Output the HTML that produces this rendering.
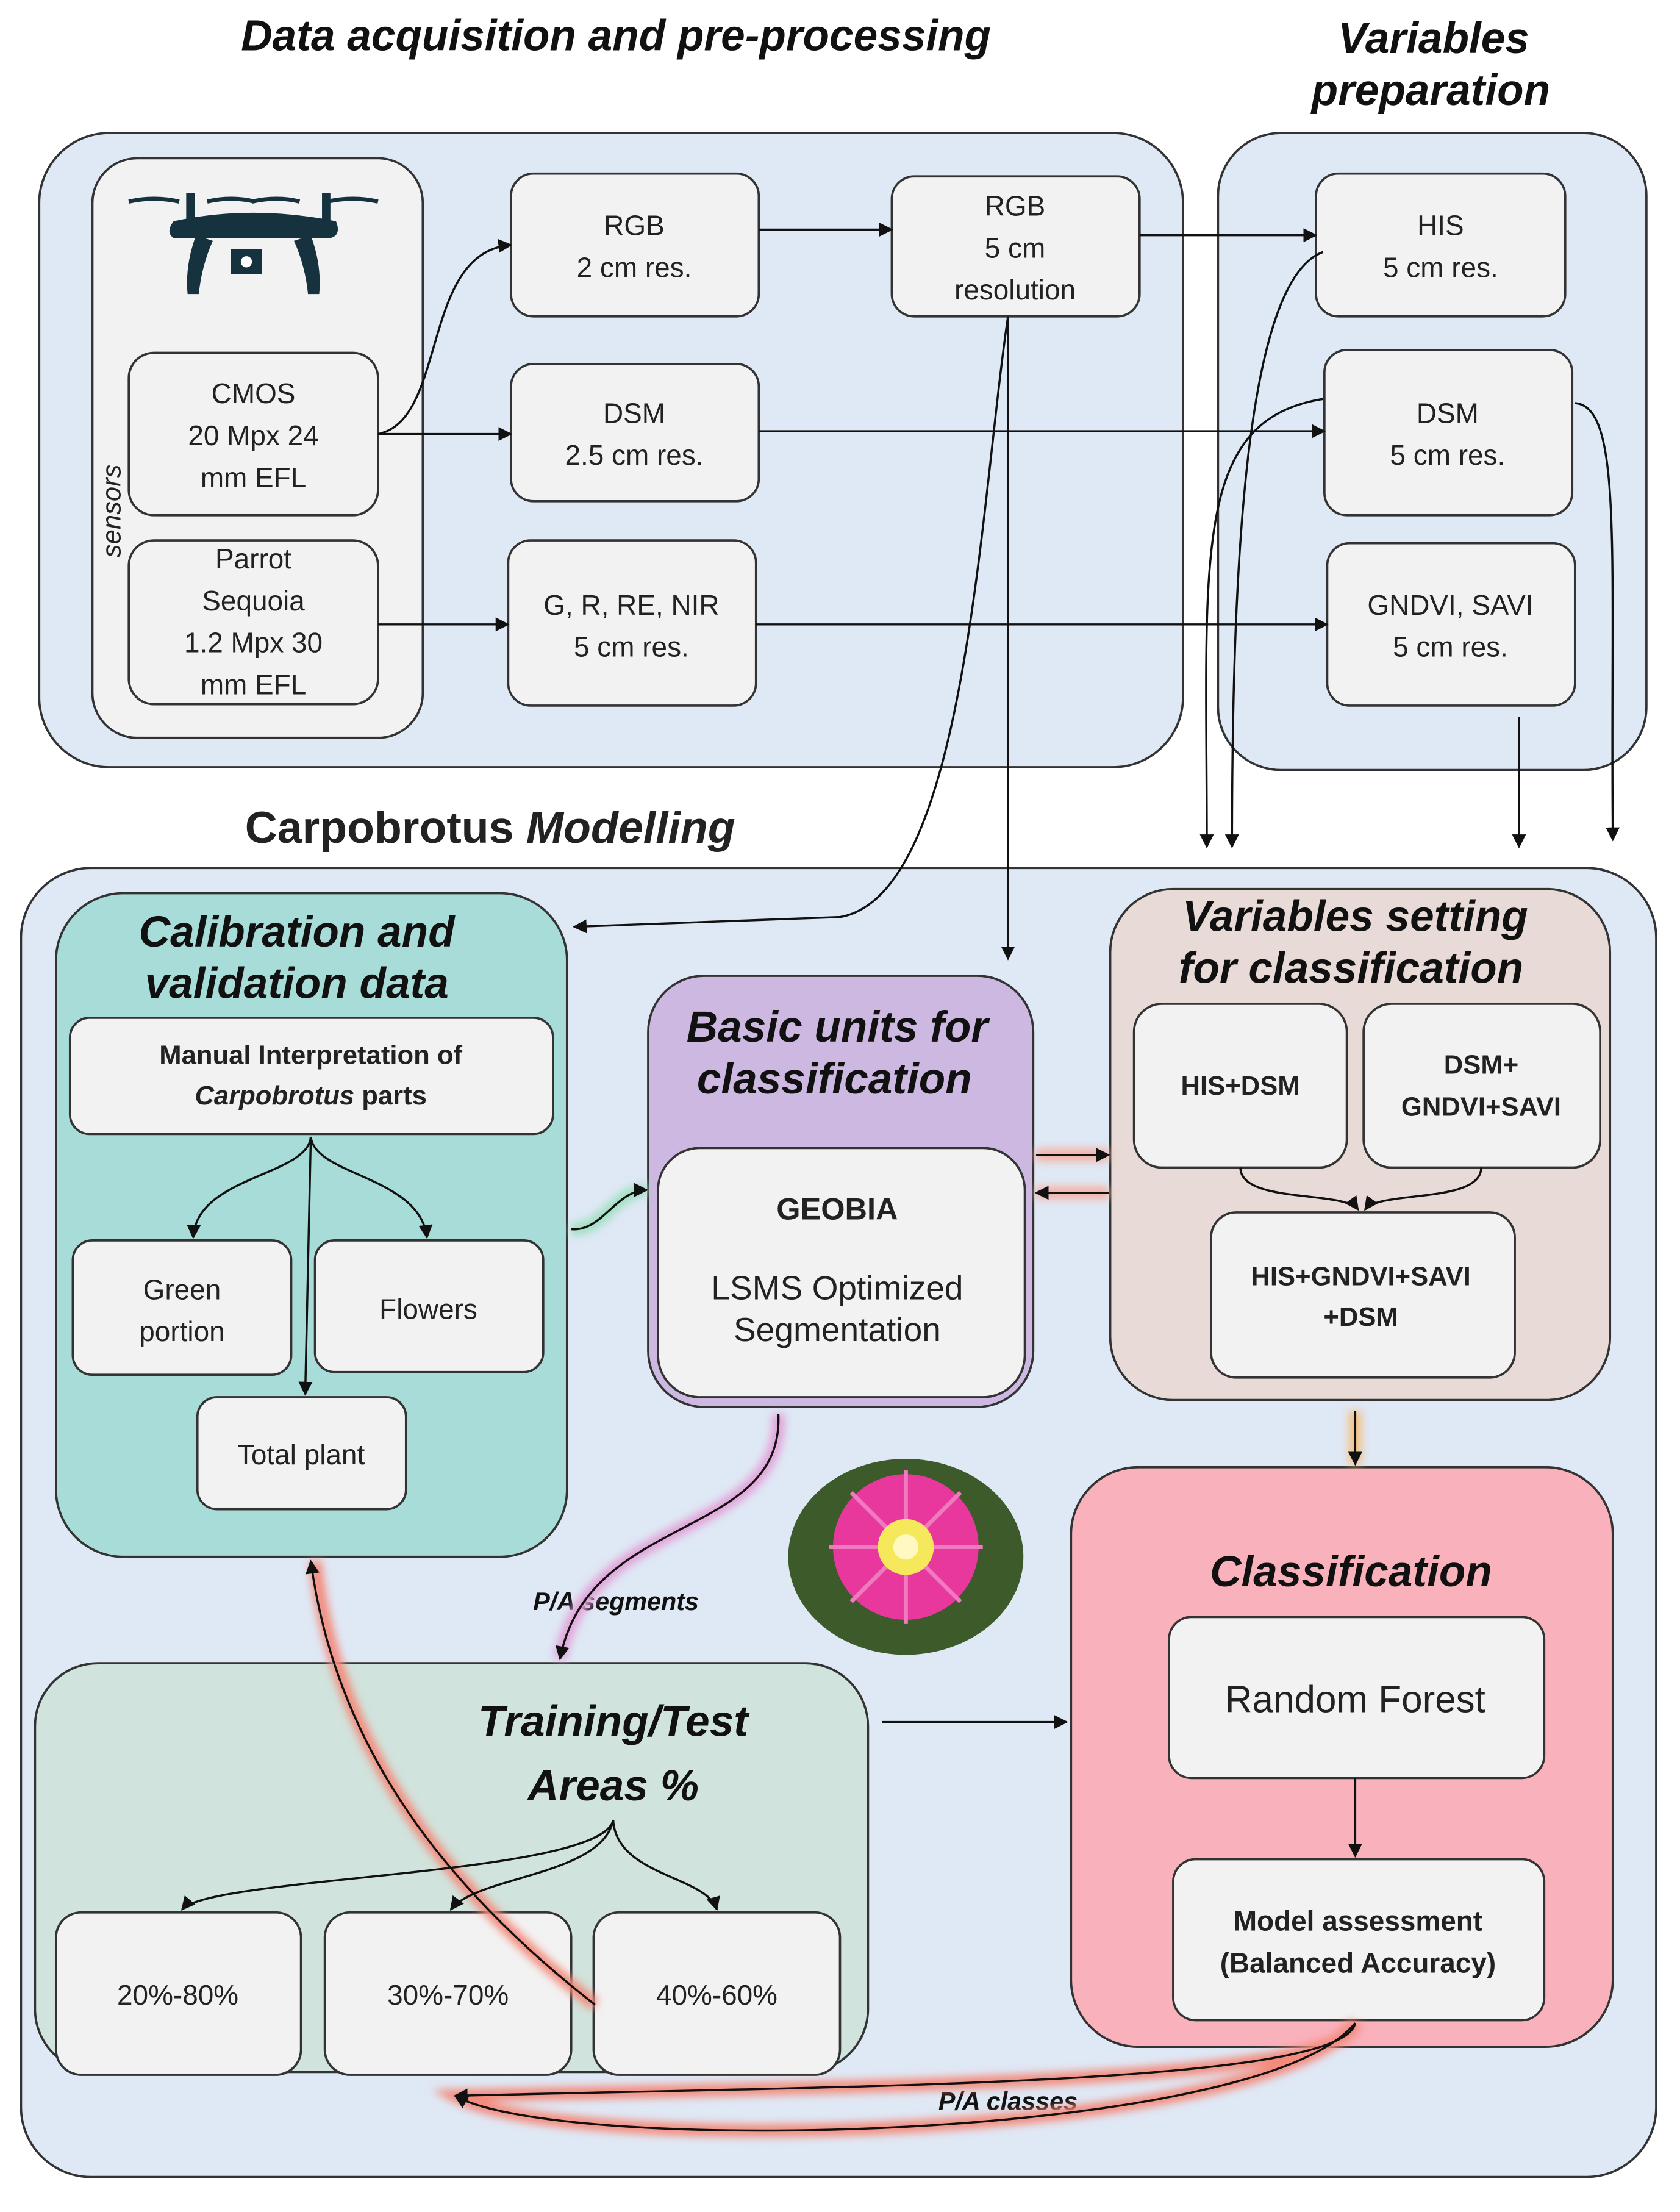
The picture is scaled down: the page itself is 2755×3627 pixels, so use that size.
<!DOCTYPE html>
<html><head><meta charset="utf-8"><style>
html,body{margin:0;padding:0;background:#fff}
svg{display:block}
text{font-family:"Liberation Sans","DejaVu Sans",sans-serif;fill:#222}
.b{font-weight:bold}
.t{font-weight:bold;font-style:italic;fill:#111}
</style></head><body>
<svg width="2755" height="3627" viewBox="0 0 1200 1580" preserveAspectRatio="none" xmlns="http://www.w3.org/2000/svg">
<defs>
<marker id="a" markerWidth="10" markerHeight="10" refX="9" refY="5" orient="auto" markerUnits="userSpaceOnUse"><path d="M0,0 L10,5 L0,10 z" fill="#111"/></marker>
<filter id="g" x="-20%" y="-20%" width="140%" height="140%"><feGaussianBlur stdDeviation="3"/></filter>
</defs>
<g stroke="#333" stroke-width="1.6">
<!-- top panels -->
<rect x="28" y="95" width="817" height="453" rx="50" fill="#dfe8f5"/>
<rect x="870" y="95" width="306" height="455" rx="45" fill="#dfe8f5"/>
<rect x="66" y="113" width="236" height="414" rx="32" fill="#f2f2f2"/>
<rect x="92" y="252" width="178" height="116" rx="18" fill="#f2f2f2"/>
<rect x="92" y="386" width="178" height="117" rx="18" fill="#f2f2f2"/>
<rect x="365" y="124" width="177" height="102" rx="16" fill="#f2f2f2"/>
<rect x="365" y="260" width="177" height="98" rx="16" fill="#f2f2f2"/>
<rect x="363" y="386" width="177" height="118" rx="16" fill="#f2f2f2"/>
<rect x="637" y="126" width="177" height="100" rx="16" fill="#f2f2f2"/>
<rect x="940" y="124" width="178" height="102" rx="16" fill="#f2f2f2"/>
<rect x="946" y="250" width="177" height="118" rx="16" fill="#f2f2f2"/>
<rect x="948" y="388" width="177" height="116" rx="16" fill="#f2f2f2"/>
<!-- big panel -->
<rect x="15" y="620" width="1168" height="935" rx="50" fill="#dfe8f5"/>
<rect x="40" y="638" width="365" height="474" rx="48" fill="#a8dcd8"/>
<rect x="50" y="727" width="345" height="83" rx="14" fill="#f2f2f2"/>
<rect x="52" y="886" width="156" height="96" rx="14" fill="#f2f2f2"/>
<rect x="225" y="886" width="163" height="94" rx="14" fill="#f2f2f2"/>
<rect x="141" y="998" width="149" height="80" rx="14" fill="#f2f2f2"/>
<rect x="463" y="697" width="275" height="308" rx="40" fill="#ccb8e0"/>
<rect x="470" y="820" width="262" height="178" rx="30" fill="#f2f2f2"/>
<rect x="793" y="635" width="357" height="365" rx="45" fill="#e8dad6"/>
<rect x="810" y="717" width="152" height="117" rx="20" fill="#f2f2f2"/>
<rect x="974" y="717" width="169" height="117" rx="20" fill="#f2f2f2"/>
<rect x="865" y="866" width="217" height="118" rx="18" fill="#f2f2f2"/>
<rect x="765" y="1048" width="387" height="414" rx="48" fill="#f9b1bb"/>
<rect x="835" y="1155" width="268" height="115" rx="16" fill="#f2f2f2"/>
<rect x="838" y="1328" width="265" height="115" rx="16" fill="#f2f2f2"/>
<rect x="25" y="1188" width="595" height="292" rx="45" fill="#d0e3dc"/>
<rect x="40" y="1366" width="175" height="116" rx="18" fill="#f2f2f2"/>
<rect x="232" y="1366" width="176" height="116" rx="18" fill="#f2f2f2"/>
<rect x="424" y="1366" width="176" height="116" rx="18" fill="#f2f2f2"/>
</g>
<!-- drone -->
<g fill="#17323f">
<path d="M92,144 Q110,140 128,144 M148,144 Q165,140 182,144 M180,144 Q198,140 214,144 M234,144 Q252,140 270,144" stroke="#17323f" stroke-width="3" fill="none"/>
<rect x="133" y="138" width="6" height="20"/><rect x="230" y="138" width="6" height="20"/>
<path d="M124,158 Q180,146 240,158 Q244,168 236,170 L124,170 Q118,166 124,158z"/>
<path d="M140,168 Q132,190 134,210 L142,210 Q144,190 152,172z M222,168 Q230,190 228,210 L220,210 Q218,190 210,172z"/>
<rect x="165" y="178" width="22" height="18"/><circle cx="176" cy="187" r="4" fill="#fff"/>
</g>
<!-- titles -->
<text x="440" y="36" font-size="31" class="t" text-anchor="middle">Data acquisition and pre-processing</text>
<text x="1024" y="38" font-size="31" class="t" text-anchor="middle">Variables</text>
<text x="1022" y="75" font-size="31" class="t" text-anchor="middle">preparation</text>
<text x="175" y="602" font-size="32" class="b" fill="#111">Carpobrotus <tspan font-style="italic">Modelling</tspan></text>
<text x="86" y="365" font-size="19" font-style="italic" transform="rotate(-90 86 365)" text-anchor="middle" dy="-0">sensors</text>
<g font-size="20" text-anchor="middle">
<text x="181" y="288">CMOS</text><text x="181" y="318">20 Mpx 24</text><text x="181" y="348">mm  EFL</text>
<text x="181" y="406">Parrot</text><text x="181" y="436">Sequoia</text><text x="181" y="466">1.2 Mpx 30</text><text x="181" y="496">mm  EFL</text>
<text x="453" y="168">RGB</text><text x="453" y="198">2 cm res.</text>
<text x="453" y="302">DSM</text><text x="453" y="332">2.5 cm res.</text>
<text x="451" y="439">G, R, RE, NIR</text><text x="451" y="469">5 cm res.</text>
<text x="725" y="154">RGB</text><text x="725" y="184">5 cm</text><text x="725" y="214">resolution</text>
<text x="1029" y="168">HIS</text><text x="1029" y="198">5 cm res.</text>
<text x="1034" y="302">DSM</text><text x="1034" y="332">5 cm res.</text>
<text x="1036" y="439">GNDVI, SAVI</text><text x="1036" y="469">5 cm res.</text>
<text x="130" y="928">Green</text><text x="130" y="958">portion</text>
<text x="306" y="942">Flowers</text>
<text x="215" y="1046">Total plant</text>
<text x="127" y="1432">20%-80%</text><text x="320" y="1432">30%-70%</text><text x="512" y="1432">40%-60%</text>
</g>
<g text-anchor="middle">
<text x="212" y="676" font-size="31" class="t">Calibration and</text>
<text x="212" y="713" font-size="31" class="t">validation data</text>
<text x="222" y="760" font-size="19" class="b">Manual Interpretation of</text>
<text x="222" y="789" font-size="19" class="b"><tspan font-style="italic">Carpobrotus</tspan>  parts</text>
<text x="598" y="744" font-size="31" class="t">Basic units for</text>
<text x="596" y="781" font-size="31" class="t">classification</text>
<text x="598" y="871" font-size="22" class="b">GEOBIA</text>
<text x="598" y="928" font-size="24">LSMS Optimized</text>
<text x="598" y="958" font-size="24">Segmentation</text>
<text x="968" y="665" font-size="31" class="t">Variables setting</text>
<text x="965" y="702" font-size="31" class="t">for classification</text>
<text x="886" y="782" font-size="19" class="b">HIS+DSM</text>
<text x="1058" y="767" font-size="19" class="b">DSM+</text>
<text x="1058" y="797" font-size="19" class="b">GNDVI+SAVI</text>
<text x="972" y="918" font-size="19" class="b">HIS+GNDVI+SAVI</text>
<text x="972" y="947" font-size="19" class="b">+DSM</text>
<text x="965" y="1133" font-size="31" class="t">Classification</text>
<text x="968" y="1223" font-size="27">Random Forest</text>
<text x="970" y="1379" font-size="20" class="b">Model assessment</text>
<text x="970" y="1409" font-size="20" class="b">(Balanced Accuracy)</text>
<text x="438" y="1240" font-size="31" class="t">Training/Test</text>
<text x="438" y="1286" font-size="31" class="t">Areas %</text>
<text x="440" y="1150" font-size="18" class="t">P/A segments</text>
<text x="720" y="1507" font-size="18" class="t">P/A classes</text>
</g>
<!-- flower -->
<ellipse cx="647" cy="1112" rx="84" ry="70" fill="#3d5a2a"/>
<g fill="#e8389e"><circle cx="647" cy="1105" r="52"/></g>
<g stroke="#f07ac0" stroke-width="3"><path d="M647,1050 L647,1160 M592,1105 L702,1105 M608,1066 L686,1144 M686,1066 L608,1144"/></g>
<circle cx="647" cy="1105" r="20" fill="#f5e85a"/><circle cx="647" cy="1105" r="9" fill="#fff8c0"/>
<!-- glow connectors -->
<g fill="none" stroke-width="9" filter="url(#g)">
<path d="M225,1115 C240,1250 320,1350 425,1432" stroke="#f48a7a"/>
<path d="M968,1445 C960,1490 600,1490 325,1497 C400,1540 900,1530 968,1445" stroke="#f48a7a"/>
<path d="M556,1010 C560,1100 420,1080 400,1185" stroke="#e2a0d8"/>
<path d="M408,878 C430,880 440,850 462,850" stroke="#9fe0c0"/>
<path d="M740,825 L792,825 M740,852 L792,852" stroke="#f4b0a0"/>
<path d="M968,1008 L968,1046" stroke="#f4c080"/>
</g>
<!-- connectors -->
<g fill="none" stroke="#111" stroke-width="1.5" marker-end="url(#a)">
<path d="M270,310 C320,300 300,180 365,175"/>
<path d="M270,310 L365,310"/>
<path d="M270,446 L363,446"/>
<path d="M542,164 L637,164"/>
<path d="M814,168 L940,168"/>
<path d="M542,308 L946,308"/>
<path d="M540,446 L948,446"/>
<path d="M720,226 L720,685"/>
<path d="M720,226 C700,360 690,640 600,655 L410,662"/>
<path d="M945,180 C890,200 880,400 880,605"/>
<path d="M945,285 C850,300 862,400 862,605"/>
<path d="M1085,512 L1085,605"/>
<path d="M1125,288 C1160,290 1150,400 1152,600"/>
<path d="M222,812 C220,840 140,840 138,884"/>
<path d="M222,812 C225,840 300,840 305,884"/>
<path d="M222,812 L218,996"/>
<path d="M408,878 C430,880 440,850 462,850"/>
<path d="M740,825 L792,825"/>
<path d="M792,852 L740,852"/>
<path d="M886,834 C886,860 960,850 970,864"/>
<path d="M1058,834 C1058,860 985,850 975,864"/>
<path d="M968,1008 L968,1046"/>
<path d="M968,1270 L968,1326"/>
<path d="M630,1230 L762,1230"/>
<path d="M556,1010 C560,1100 420,1080 400,1185"/>
<path d="M438,1300 C430,1340 150,1340 130,1364"/>
<path d="M438,1300 C430,1340 340,1340 322,1364"/>
<path d="M438,1300 C440,1340 505,1340 512,1364"/>
<path d="M425,1432 C320,1350 240,1250 222,1115"/>
<path d="M968,1445 C960,1490 600,1490 325,1497"/>
<path d="M968,1445 C900,1530 400,1540 325,1497"/>
</g>
</svg>
</body></html>
